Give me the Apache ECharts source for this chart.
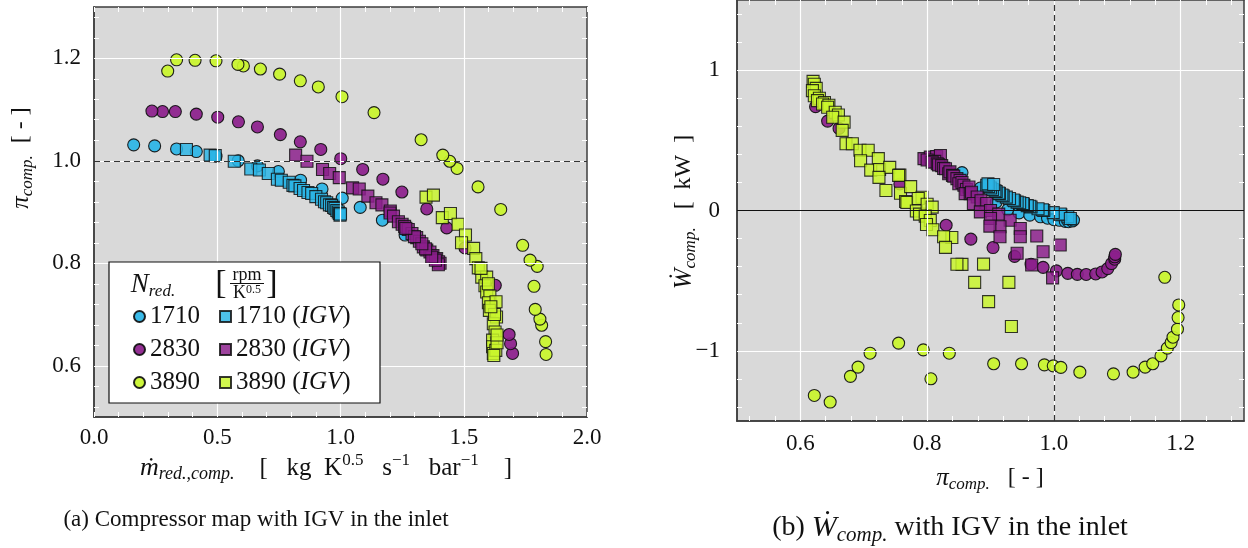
<!DOCTYPE html>
<html><head><meta charset="utf-8">
<script src="https://cdn.jsdelivr.net/npm/echarts@6/dist/echarts.min.js"></script>
<style>html,body{margin:0;padding:0;background:#fff}#c{width:1248px;height:548px}</style>
</head><body><div id="c"></div>
<script>
// ---------- DATA ----------
// (a) compressor map: [m_red,comp , pi_comp]
const a1710 = [[0.161,1.031],[0.246,1.029],[0.335,1.023],[0.415,1.018],[0.495,1.009],[0.585,1.000],[0.663,0.990],[0.748,0.979],[0.838,0.962],[0.925,0.945],[1.007,0.927],[1.080,0.909],[1.170,0.884],[1.262,0.855]];
const a1710igv = [[0.375,1.022],[0.471,1.011],[0.492,1.010],[0.569,0.999],[0.636,0.984],[0.671,0.982],[0.707,0.975],[0.744,0.964],[0.760,0.962],[0.792,0.958],[0.807,0.952],[0.815,0.951],[0.836,0.946],[0.850,0.942],[0.868,0.938],[0.883,0.936],[0.900,0.930],[0.923,0.925],[0.935,0.920],[0.944,0.918],[0.955,0.914],[0.964,0.913],[0.972,0.909],[0.978,0.907],[0.985,0.903],[0.991,0.900],[0.995,0.897],[0.998,0.894],[1.000,0.896]];
const a2830 = [[1.698,0.624],[1.690,0.643],[1.684,0.661],[1.628,0.757],[1.505,0.830],[1.431,0.869],[1.350,0.906],[1.249,0.939],[1.172,0.964],[1.090,0.983],[1.001,1.004],[0.920,1.022],[0.837,1.037],[0.756,1.051],[0.663,1.066],[0.586,1.076],[0.502,1.085],[0.415,1.091],[0.330,1.096],[0.278,1.096],[0.235,1.097]];
const a2830igv = [[0.818,1.011],[0.864,0.999],[0.927,0.983],[0.956,0.975],[0.995,0.967],[1.049,0.947],[1.076,0.945],[1.111,0.931],[1.144,0.918],[1.168,0.914],[1.202,0.902],[1.201,0.898],[1.215,0.892],[1.235,0.881],[1.250,0.876],[1.260,0.872],[1.275,0.866],[1.290,0.858],[1.309,0.850],[1.320,0.843],[1.336,0.832],[1.350,0.826],[1.363,0.822],[1.375,0.815],[1.390,0.809],[1.398,0.803],[1.404,0.800],[1.397,0.797],[1.385,0.806],[1.370,0.812],[1.345,0.828],[1.330,0.838],[1.300,0.852],[1.265,0.868]];
const a3890 = [[1.834,0.622],[1.832,0.647],[1.816,0.679],[1.809,0.691],[1.790,0.710],[1.785,0.755],[1.798,0.794],[1.769,0.806],[1.739,0.835],[1.650,0.905],[1.558,0.949],[1.473,0.985],[1.443,0.999],[1.415,1.011],[1.327,1.041],[1.136,1.094],[1.006,1.125],[0.910,1.144],[0.837,1.156],[0.753,1.169],[0.675,1.179],[0.606,1.185],[0.584,1.188],[0.495,1.195],[0.410,1.196],[0.335,1.197],[0.299,1.175]];
const a3890igv = [[1.347,0.929],[1.377,0.933],[1.413,0.889],[1.446,0.897],[1.477,0.876],[1.507,0.855],[1.491,0.840],[1.540,0.829],[1.549,0.809],[1.559,0.791],[1.573,0.773],[1.593,0.773],[1.586,0.756],[1.593,0.744],[1.606,0.736],[1.600,0.723],[1.631,0.725],[1.604,0.708],[1.633,0.695],[1.620,0.682],[1.627,0.666],[1.617,0.650],[1.617,0.637],[1.620,0.624],[1.630,0.630],[1.635,0.645],[1.625,0.700],[1.610,0.715],[1.600,0.760],[1.570,0.790],[1.635,0.660],[1.622,0.620]];

// (b) power: [pi_comp , W_comp]
const b1710 = [[0.855,0.270],[0.884,0.160],[0.909,0.060],[0.927,0.005],[0.945,-0.017],[0.962,-0.033],[0.979,-0.045],[0.990,-0.055],[1.000,-0.065],[1.009,-0.070],[1.018,-0.078],[1.023,-0.080],[1.029,-0.075],[1.031,-0.068]];
const b1710igv = [[1.022,-0.045],[1.011,-0.030],[1.010,-0.025],[0.999,-0.015],[0.984,0.000],[0.982,0.005],[0.975,0.012],[0.964,0.025],[0.962,0.030],[0.958,0.035],[0.952,0.045],[0.951,0.050],[0.946,0.055],[0.942,0.060],[0.938,0.070],[0.936,0.075],[0.930,0.085],[0.925,0.095],[0.920,0.105],[0.918,0.110],[0.914,0.120],[0.913,0.125],[0.909,0.135],[0.907,0.140],[0.903,0.150],[0.900,0.160],[0.897,0.170],[0.894,0.180],[0.896,0.190],[0.905,0.185],[1.026,-0.057]];
const b2830 = [[0.624,0.740],[0.643,0.637],[0.661,0.585],[0.757,0.189],[0.830,-0.105],[0.869,-0.204],[0.904,-0.264],[0.938,-0.327],[0.964,-0.383],[0.983,-0.405],[1.004,-0.430],[1.022,-0.448],[1.037,-0.455],[1.051,-0.456],[1.066,-0.452],[1.076,-0.438],[1.085,-0.414],[1.091,-0.378],[1.096,-0.347],[1.096,-0.330],[1.097,-0.313]];
const b2830igv = [[0.795,0.370],[0.805,0.380],[0.815,0.385],[0.821,0.392],[0.800,0.360],[0.812,0.350],[0.808,0.345],[0.816,0.333],[0.818,0.325],[0.823,0.320],[0.826,0.300],[0.829,0.298],[0.834,0.262],[0.836,0.275],[0.840,0.250],[0.842,0.245],[0.847,0.227],[0.852,0.215],[0.850,0.191],[0.855,0.200],[0.858,0.180],[0.862,0.150],[0.866,0.167],[0.860,0.120],[0.868,0.120],[0.870,0.130],[0.879,0.096],[0.873,0.050],[0.885,0.070],[0.894,0.050],[0.884,-0.010],[0.900,0.000],[0.913,-0.026],[0.900,-0.057],[0.931,-0.069],[0.915,-0.116],[0.899,-0.111],[0.947,-0.128],[0.915,-0.187],[0.947,-0.187],[0.973,-0.182],[1.010,-0.246],[0.942,-0.305],[0.983,-0.294],[0.965,-0.388],[0.998,-0.480]];
const b3890 = [[0.622,-1.318],[0.647,-1.365],[0.679,-1.182],[0.691,-1.116],[0.710,-1.017],[0.755,-0.945],[0.794,-0.993],[0.806,-1.199],[0.835,-1.017],[0.905,-1.092],[0.949,-1.092],[0.985,-1.100],[0.999,-1.107],[1.011,-1.118],[1.041,-1.152],[1.094,-1.164],[1.125,-1.152],[1.144,-1.116],[1.156,-1.092],[1.169,-1.036],[1.179,-0.981],[1.185,-0.941],[1.188,-0.903],[1.195,-0.846],[1.196,-0.763],[1.197,-0.673],[1.175,-0.476]];
const b3890igv = [[0.620,0.920],[0.622,0.900],[0.625,0.870],[0.619,0.854],[0.622,0.818],[0.630,0.800],[0.627,0.783],[0.638,0.770],[0.635,0.759],[0.645,0.750],[0.643,0.736],[0.655,0.700],[0.660,0.680],[0.651,0.665],[0.669,0.630],[0.666,0.571],[0.672,0.476],[0.682,0.476],[0.694,0.429],[0.707,0.429],[0.695,0.354],[0.723,0.370],[0.711,0.288],[0.725,0.292],[0.741,0.307],[0.724,0.236],[0.757,0.252],[0.755,0.250],[0.735,0.142],[0.758,0.123],[0.774,0.170],[0.766,0.064],[0.768,0.057],[0.792,0.094],[0.786,0.085],[0.783,-0.004],[0.788,-0.026],[0.800,0.045],[0.808,0.024],[0.797,-0.040],[0.805,-0.071],[0.799,-0.100],[0.809,-0.137],[0.839,-0.192],[0.826,-0.187],[0.829,-0.263],[0.855,-0.384],[0.847,-0.383],[0.889,-0.382],[0.875,-0.512],[0.929,-0.512],[0.897,-0.649],[0.933,-0.827]];

// tick labels
const aXTicks = [0.0, 0.5, 1.0, 1.5, 2.0];
const aYTicks = [0.6, 0.8, 1.0, 1.2];
const bXTicks = [0.6, 0.8, 1.0, 1.2];
const bYTicks = [-1, 0, 1];

// ---------- STYLE ----------
const FONT = "'Liberation Serif','DejaVu Serif',serif";
const COL = {c1710:'#2bb5e6', c2830:'#8c1f8c', c3890:'#c9f52c'};
const FRAME = '#3c3c3c';

function steps(from, to, step){ const r=[]; const n=Math.round((to-from)/step); for(let k=0;k<=n;k++) r.push(+(from+k*step).toFixed(4)); return r; }
const aXMinor = steps(0, 2, 0.1);
const aYMinor = steps(0.52, 1.28, 0.04);
const bXMinor = steps(0.52, 1.28, 0.04);
const bYMinor = steps(-1.4, 1.4, 0.2);

const fmt1 = v => v.toFixed(1);
const fmtInt = v => (v < 0 ? '\u2212' + Math.abs(v) : String(v));

function mainAxis(grid, pos, min, max, majors, fmt, margin){
  return {type:'value', gridIndex:grid, position:pos, min, max,
    axisLine:{show:true,onZero:false,lineStyle:{color:FRAME,width:1.5}},
    axisTick:{show:false, customValues:majors},
    axisLabel:{show:true, customValues:majors, formatter:fmt, fontFamily:FONT, fontSize:23, color:'#111', margin:margin},
    splitLine:{show:true, lineStyle:{color:'#ffffff', width:1.2}},
    minorTick:{show:false}, minorSplitLine:{show:false}, z:3};
}
function tickAxis(grid, pos, min, max, vals){
  return {type:'value', gridIndex:grid, position:pos, min, max,
    axisLine:{show:true,onZero:false,lineStyle:{color:FRAME,width:1.5}},
    axisTick:{show:true, inside:true, length:5, customValues:vals, lineStyle:{color:'#ffffff',width:1}},
    axisLabel:{show:false}, splitLine:{show:false}, z:3};
}

const xAxis = [
  mainAxis(0,'bottom',0,2,aXTicks,fmt1,9), tickAxis(0,'bottom',0,2,aXMinor), tickAxis(0,'top',0,2,aXMinor),
  mainAxis(1,'bottom',0.5,1.3,bXTicks,fmt1,11), tickAxis(1,'bottom',0.5,1.3,bXMinor), tickAxis(1,'top',0.5,1.3,bXMinor)
];
const yAxis = [
  mainAxis(0,'left',0.5,1.3,aYTicks,fmt1,13), tickAxis(0,'left',0.5,1.3,aYMinor), tickAxis(0,'right',0.5,1.3,aYMinor),
  mainAxis(1,'left',-1.5,1.5,bYTicks,fmtInt,17), tickAxis(1,'left',-1.5,1.5,bYMinor), tickAxis(1,'right',-1.5,1.5,bYMinor)
];

function sc(name, data, sym, color, ax){
  const sq = sym === 'rect';
  return {type:'scatter', name, data, xAxisIndex:ax, yAxisIndex:ax, symbol:sym, symbolSize: 12,
    itemStyle:{color, borderColor: '#111', borderWidth: 1.1, opacity: sq?0.84:0.93},
    emphasis:{disabled:true}, z:2, clip:false};
}
const series = [
  {type:'scatter', data:[], xAxisIndex:0, yAxisIndex:0, z:1, silent:true,
   markLine:{silent:true, symbol:'none', label:{show:false}, animation:false,
     lineStyle:{color:'#333', type:[6,4], width:1.2}, data:[{yAxis:1.0}]}},
  {type:'scatter', data:[], xAxisIndex:3, yAxisIndex:3, z:1, silent:true,
   markLine:{silent:true, symbol:'none', label:{show:false}, animation:false,
     data:[{xAxis:1.0, lineStyle:{color:'#333', type:[6,4], width:1.2}}, {yAxis:0, lineStyle:{color:'#111', type:'solid', width:1.2}}]}},
  sc('1710', a1710, 'circle', COL.c1710, 0),
  sc('2830', a2830, 'circle', COL.c2830, 0),
  sc('3890', a3890, 'circle', COL.c3890, 0),
  sc('1710 (IGV)', a1710igv, 'rect', COL.c1710, 0),
  sc('2830 (IGV)', a2830igv, 'rect', COL.c2830, 0),
  sc('3890 (IGV)', a3890igv, 'rect', COL.c3890, 0),
  sc('1710', b1710, 'circle', COL.c1710, 3),
  sc('2830', b2830, 'circle', COL.c2830, 3),
  sc('3890', b3890, 'circle', COL.c3890, 3),
  sc('1710 (IGV)', b1710igv, 'rect', COL.c1710, 3),
  sc('2830 (IGV)', b2830igv, 'rect', COL.c2830, 3),
  sc('3890 (IGV)', b3890igv, 'rect', COL.c3890, 3)
];

const RICH = {
  m:{fontFamily:FONT, fontStyle:'italic', fontSize:25, lineHeight:30, color:'#111'},
  t:{fontFamily:FONT, fontSize:24, lineHeight:30, color:'#111'},
  m2:{fontFamily:FONT, fontStyle:'italic', fontSize:26, lineHeight:31, color:'#111'},
  t2:{fontFamily:FONT, fontSize:25, lineHeight:31, color:'#111'},
  sub2:{fontFamily:FONT, fontStyle:'italic', fontSize:18, lineHeight:20, verticalAlign:'bottom', color:'#111'},
  sup2:{fontFamily:FONT, fontSize:17, lineHeight:19, verticalAlign:'top', color:'#111'},
  c:{fontFamily:FONT, fontSize:23, lineHeight:30, color:'#111'},
  cb:{fontFamily:FONT, fontSize:28, lineHeight:35, color:'#111'},
  mb:{fontFamily:FONT, fontStyle:'italic', fontSize:30, lineHeight:35, color:'#111'},
  subb:{fontFamily:FONT, fontStyle:'italic', fontSize:21, lineHeight:23, verticalAlign:'bottom', color:'#111'},
  sub:{fontFamily:FONT, fontStyle:'italic', fontSize:17, lineHeight:19, verticalAlign:'bottom', color:'#111'},
  sup:{fontFamily:FONT, fontSize:16, lineHeight:18, verticalAlign:'top', color:'#111'},
  n:{fontFamily:FONT, fontSize:25, lineHeight:24, color:'#111'},
  i:{fontFamily:FONT, fontStyle:'italic', fontSize:25, lineHeight:24, color:'#111'},
  p:{fontFamily:FONT, fontSize:25, lineHeight:24, color:'#111'},
  N:{fontFamily:FONT, fontStyle:'italic', fontSize:27, lineHeight:30, color:'#111'}
};
function txt(x, y, text, opts){
  return Object.assign({type:'text', x, y, z:10, style:{text, rich:RICH, align:'center', verticalAlign:'middle', font:'22px '+FONT, fill:'#111'}}, opts||{});
}

const legendCommon = {orient:'vertical', itemWidth:11, itemHeight:11, itemGap:8, top:304, z:6, padding:0,
  selectedMode:false, textStyle:{fontFamily:FONT, fontSize:25, lineHeight:24, color:'#111', rich:RICH}};

const option = {
  animation:false, backgroundColor:'#ffffff',
  grid:[
    {left:94, top:7, width:493, height:410, show:true, backgroundColor:'#d9d9d9', borderWidth:0, containLabel:false},
    {left:737, top:-2, width:507, height:423, show:true, backgroundColor:'#d9d9d9', borderWidth:0, containLabel:false}
  ],
  xAxis, yAxis, series,
  legend:[
    Object.assign({}, legendCommon, {left:133, data:['1710','2830','3890']}),
    Object.assign({}, legendCommon, {left:219, data:['1710 (IGV)','2830 (IGV)','3890 (IGV)'],
      formatter: nm => '{n|' + nm.split(' ')[0] + ' (}{i|IGV}{p|)}'})
  ],
  graphic:[
    {type:'rect', z:5, shape:{x:109, y:262, width:271, height:141}, style:{fill:'#ffffff', stroke:'#111', lineWidth:1.2}},
    txt(153, 285, '{N|N}{sub|red.}'),
    {type:'text', z:10, x:221, y:284, style:{text:'[', font:'34px '+FONT, fill:'#111', align:'center', verticalAlign:'middle'}},
    {type:'text', z:10, x:272, y:284, style:{text:']', font:'34px '+FONT, fill:'#111', align:'center', verticalAlign:'middle'}},
    {type:'text', z:10, x:247, y:275, style:{text:'rpm', font:'18px '+FONT, fill:'#111', align:'center', verticalAlign:'middle'}},
    {type:'line', z:10, shape:{x1:230, y1:283.5, x2:264, y2:283.5}, style:{stroke:'#111', lineWidth:1}},
    {type:'text', z:10, x:247, y:293, style:{text:'K{s|0.5}', font:'18px '+FONT, fill:'#111', align:'center', verticalAlign:'middle',
      rich:{s:{fontFamily:FONT, fontSize:12, verticalAlign:'top', lineHeight:12}}}},
    txt(21, 158, '{m|\u03c0}{sub|comp.}{t|  [ - ]}', {rotation:Math.PI/2}),
    txt(326, 468, '{m2|\u1e41}{sub2|red.,comp.}{t2|    [   kg  K}{sup2|0.5}{t2|   s}{sup2|\u22121}{t2|   bar}{sup2|\u22121}{t2|    ]}'),
    txt(684, 212, '{m|\u1e86}{sub|comp.}{t|   [  kW  ]}', {rotation:Math.PI/2}),
    txt(990, 478, '{m|\u03c0}{sub|comp.}{t|   [ - ]}'),
    txt(256, 520, '{c|(a) Compressor map with IGV in the inlet}'),
    txt(950, 528, '{cb|(b) }{mb|\u1e86}{subb|comp.}{cb| with IGV in the inlet}')
  ]
};
const chart = echarts.init(document.getElementById('c'), null, {renderer:'canvas'});
chart.setOption(option);
</script></body></html>
